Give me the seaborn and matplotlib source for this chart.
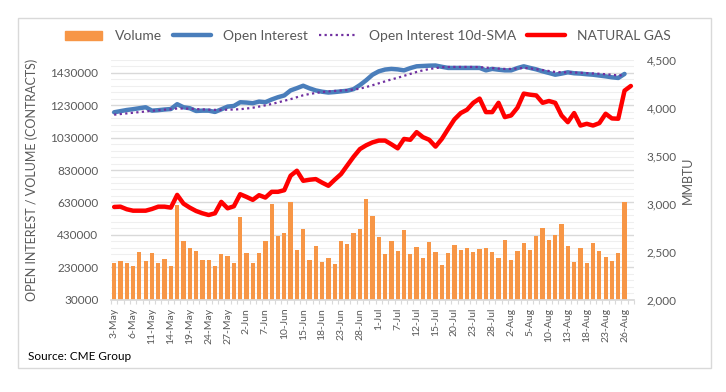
import numpy as np
import pandas as pd
import matplotlib
matplotlib.use('Agg')
import matplotlib.pyplot as plt
from matplotlib.patches import Rectangle, Patch
from matplotlib.lines import Line2D
from matplotlib.ticker import FixedLocator, FuncFormatter
import seaborn as sns

# trading sessions 3-May .. 27-Aug 2021 (Memorial Day and 5-Jul closed)
sessions = pd.bdate_range('2021-05-03', '2021-08-27')
sessions = sessions.drop(pd.to_datetime(['2021-05-31', '2021-07-05']))

tick_labels = ['3-May', '6-May', '11-May', '14-May', '19-May', '24-May', '27-May',
               '2-Jun', '7-Jun', '10-Jun', '15-Jun', '18-Jun', '23-Jun', '28-Jun',
               '1-Jul', '7-Jul', '12-Jul', '15-Jul', '20-Jul', '23-Jul', '28-Jul',
               '2-Aug', '5-Aug', '10-Aug', '13-Aug', '18-Aug', '23-Aug', '26-Aug']

# contracts, 3-May .. 26-Aug
volume = [257000, 269000, 257000, 239000, 325000, 269000, 319000, 257000, 282000, 239000,
          612000, 393000, 347000, 331000, 275000, 275000, 239000, 312000, 300000, 257000,
          537000, 319000, 257000, 319000, 393000, 618000, 422000, 443000, 635000, 337000,
          468000, 275000, 360000, 263000, 288000, 250000, 393000, 375000, 443000, 468000,
          650000, 549000, 416000, 312000, 393000, 331000, 462000, 312000, 356000, 288000,
          387000, 325000, 242000, 319000, 369000, 337000, 347000, 325000, 344000, 347000,
          325000, 288000, 400000, 275000, 331000, 381000, 337000, 425000, 474000, 400000,
          431000, 499000, 362000, 263000, 350000, 257000, 381000, 331000, 294000, 269000,
          319000, 630000]

open_interest = [1187000, 1194000, 1201000, 1206000, 1212000, 1218000, 1197000, 1200000, 1204000, 1207000,
                 1237000, 1218000, 1212000, 1195000, 1197000, 1197000, 1189000, 1205000, 1222000, 1226000,
                 1249000, 1247000, 1243000, 1253000, 1249000, 1266000, 1280000, 1291000, 1322000, 1336000,
                 1351000, 1335000, 1322000, 1314000, 1309000, 1312000, 1316000, 1320000, 1330000, 1355000,
                 1385000, 1419000, 1440000, 1451000, 1455000, 1452000, 1446000, 1460000, 1471000, 1473000,
                 1475000, 1476000, 1468000, 1461000, 1461000, 1461000, 1461000, 1461000, 1461000, 1446000,
                 1455000, 1450000, 1446000, 1446000, 1460000, 1471000, 1461000, 1452000, 1440000, 1430000,
                 1419000, 1426000, 1434000, 1428000, 1426000, 1422000, 1419000, 1414000, 1409000, 1403000,
                 1399000, 1424000]

oi_sma10 = [1172000, 1176000, 1180000, 1184000, 1188000, 1192000, 1196000, 1200000, 1203000, 1206000,
            1210000, 1210000, 1209000, 1207000, 1205000, 1203000, 1202000, 1202000, 1203000, 1204000,
            1206000, 1210000, 1215000, 1222000, 1230000, 1238000, 1248000, 1258000, 1268000, 1280000,
            1292000, 1300000, 1306000, 1312000, 1316000, 1319000, 1321000, 1324000, 1327000, 1333000,
            1343000, 1354000, 1366000, 1378000, 1390000, 1400000, 1412000, 1424000, 1436000, 1446000,
            1454000, 1460000, 1465000, 1467000, 1467000, 1467000, 1467000, 1467000, 1466000, 1463000,
            1460000, 1457000, 1455000, 1455000, 1458000, 1461000, 1458000, 1453000, 1448000, 1442000,
            1436000, 1434000, 1434000, 1433000, 1431000, 1429000, 1427000, 1425000, 1422000, 1419000,
            1414000, 1418000]

# price, 3-May .. 27-Aug
natural_gas = [2966, 2969, 2942, 2927, 2927, 2927, 2945, 2969, 2969, 2959,
               3092, 3001, 2959, 2924, 2900, 2882, 2900, 3019, 2952, 2973,
               3099, 3071, 3040, 3089, 3064, 3124, 3124, 3141, 3292, 3344,
               3239, 3250, 3257, 3220, 3187, 3250, 3309, 3400, 3490, 3570,
               3610, 3640, 3659, 3659, 3620, 3578, 3676, 3667, 3747, 3695,
               3667, 3596, 3676, 3780, 3880, 3946, 3981, 4053, 4097, 3956,
               3956, 4053, 3904, 3921, 4002, 4149, 4138, 4130, 4053, 4072,
               4053, 3921, 3851, 3946, 3816, 3834, 3816, 3841, 3939, 3890,
               3887, 4180, 4229]

ORANGE = '#F79646'
BLUE = '#4A7EBB'
PURPLE = '#7030A0'
RED = '#FF0000'
GREY_TXT = '#595959'

sns.set_theme(style='white')
plt.rcParams['font.family'] = ['Lato', 'DejaVu Sans']

W, H = 726, 392
fig = plt.figure(figsize=(W / 100, H / 100), dpi=100)
fig.patch.set_facecolor('white')
fig.patches.append(Rectangle((18 / W, 1 - 368 / H), (711 - 18) / W, (368 - 18) / H,
                             transform=fig.transFigure, fill=False,
                             ec='#d9d9d9', lw=1))

ax = fig.add_axes([111 / W, 1 - 299.5 / H, (634 - 111) / W, (299.5 - 60) / H])
pos = np.arange(len(sessions))

sns.barplot(x=pos[:len(volume)], y=volume, native_scale=True, color=ORANGE,
            saturation=1, width=0.68, linewidth=0, errorbar=None, ax=ax)
sns.lineplot(x=pos[:len(open_interest)], y=open_interest, color=BLUE, lw=3.2,
             legend=False, ax=ax)
sns.lineplot(x=pos[:len(oi_sma10)], y=oi_sma10, color=PURPLE, lw=1.6,
             linestyle=(0, (1, 1.5)), legend=False, ax=ax)

ax.set_xlim(-0.5, len(sessions) - 0.5)
ax.set_ylim(30000, 1510000)
ax.yaxis.set_major_locator(FixedLocator(np.arange(30000, 1430001, 200000)))
ax.yaxis.set_minor_locator(FixedLocator(np.arange(30000, 1510001, 40000)))
ax.set_axisbelow(True)
ax.grid(which='major', axis='y', color='#d9d9d9', lw=1)
ax.grid(which='minor', axis='y', color='#efefef', lw=0.8)
ax.grid(which='both', axis='x', visible=False)

ax.set_xticks(np.arange(0, len(tick_labels) * 3, 3))
ax.set_xticklabels(tick_labels, rotation=90)
ax.xaxis.set_minor_locator(FixedLocator(np.arange(-0.5, len(sessions), 1)))
ax.tick_params(axis='x', which='major', length=0, pad=6, labelsize=7.5, colors=GREY_TXT)
ax.tick_params(axis='x', which='minor', length=3, width=0.8, color='#d9d9d9', bottom=True)
ax.tick_params(axis='y', which='both', length=0, pad=9, labelsize=8.5, colors=GREY_TXT)
ax.yaxis.set_major_formatter(FuncFormatter(lambda v, p: f'{int(v)}'))
ax.set_xlabel('')
ax.set_ylabel('')
for side in ['left', 'right', 'top']:
    ax.spines[side].set_visible(False)
ax.spines['bottom'].set_color('#d9d9d9')

ax2 = ax.twinx()
sns.lineplot(x=pos[:len(natural_gas)], y=natural_gas, color=RED, lw=3.2,
             legend=False, ax=ax2)
ax2.set_ylim(2000, 4500)
ax2.set_yticks(np.arange(2000, 4501, 500))
ax2.yaxis.set_major_formatter(FuncFormatter(lambda v, p: f'{int(v):,}'))
ax2.tick_params(axis='y', length=0, pad=9, labelsize=8.5, colors=GREY_TXT)
ax2.grid(False)
ax2.set_ylabel('')
for side in ax2.spines:
    ax2.spines[side].set_visible(False)

fig.text(32 / W, 1 - 180 / H, 'OPEN INTEREST / VOLUME (CONTRACTS)', rotation=90,
         ha='center', va='center', fontsize=9, color=GREY_TXT)
fig.text(688 / W, 1 - 180 / H, 'MMBTU', rotation=90,
         ha='center', va='center', fontsize=9, color=GREY_TXT)
fig.text(28 / W, 1 - 356 / H, 'Source: CME Group', ha='left', va='center',
         fontsize=8.5, color='black')

handles = [Patch(color=ORANGE),
           Line2D([], [], color=BLUE, lw=3.2),
           Line2D([], [], color=PURPLE, lw=1.6, linestyle=(0, (1, 1.5))),
           Line2D([], [], color=RED, lw=3.2)]
labels = ['Volume', 'Open Interest', 'Open Interest 10d-SMA', 'NATURAL GAS']
fig.legend(handles, labels, loc='center', bbox_to_anchor=(368 / W, 1 - 36 / H),
           ncol=4, frameon=False, fontsize=10, handlelength=2.7,
           handleheight=0.6, handletextpad=0.9, columnspacing=0.8,
           labelcolor=GREY_TXT)

fig.savefig('out.png', dpi=100)
